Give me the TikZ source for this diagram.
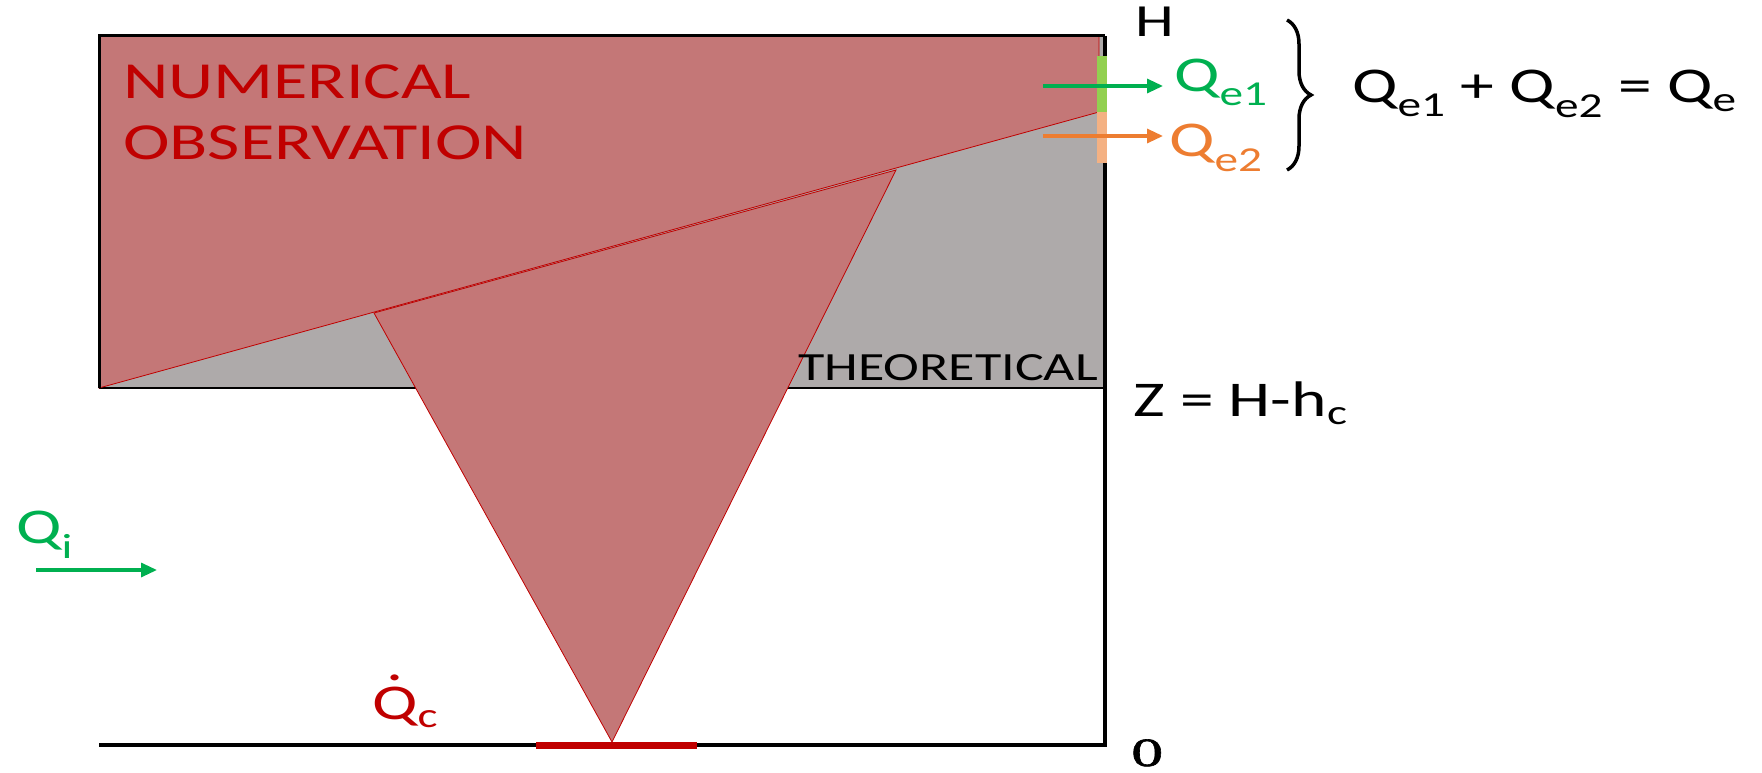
\documentclass[tikz,border=0pt]{standalone}
\usepackage{fontspec}
\setmainfont{Carlito}[FakeStretch=1.35]
\newfontfamily\zerofont{Liberation Serif}[FakeStretch=1.6,FakeBold=1.5]
\usetikzlibrary{arrows.meta,decorations.pathreplacing}
\definecolor{fillred}{RGB}{196,119,119}
\definecolor{darkred}{RGB}{192,0,0}
\definecolor{grayfill}{RGB}{174,170,170}
\definecolor{qgreen}{RGB}{0,176,80}
\definecolor{lgreen}{RGB}{146,208,80}
\definecolor{lorange}{RGB}{244,177,131}
\definecolor{qorange}{RGB}{237,125,49}
\newcommand\Qdot{{\ooalign{Q\cr\hidewidth\raisebox{0.78em}{.}\hidewidth\cr}}}
\begin{document}
\begin{tikzpicture}[x=1pt,y=-1pt,
  redzone/.style={fill=fillred, draw=darkred, line width=0.8pt},
  wall/.style={line width=4pt, black},
  flowarrow/.style={line width=3.2pt, -{Triangle[length=16pt,width=14pt]}},
  lbl/.style={inner sep=0pt, font=\fontsize{50}{60}\selectfont},
  bar/.style={line width=10pt},
]
\useasboundingbox (0,0) rectangle (1762,773);
% theoretical plume zone
\fill[grayfill] (99,36) rectangle (1105,388);
\draw[line width=1.5pt] (99,388) -- (1105,388);
% numerical observation zone
\draw[redzone] (99,36) -- (1099,36) -- (1099,112) -- (99,388) -- cycle;
% cone
\draw[redzone] (612,742) -- (374,313) -- (896,170) -- cycle;
% walls
\draw[line width=3pt] (99,388) -- (99,36) -- (1105,36);
\draw[wall] (1105,36) -- (1105,745) -- (99,745);
% heater
\draw[darkred, line width=7pt] (536,745) -- (697,745);
% exhaust bars
\draw[bar, lgreen] (1102,56) -- (1102,112);
\draw[bar, lorange] (1102,112) -- (1102,163);
% coordinates for arrows
\coordinate (e1s) at (1043,86);
\coordinate (e1e) at (1163,86);
\coordinate (e2s) at (1043,136);
\coordinate (e2e) at (1163,136);
\coordinate (is) at (36,570);
\coordinate (ie) at (157,570);
\draw[flowarrow, qgreen] (e1s) -- (e1e);
\draw[flowarrow, qorange] (e2s) -- (e2e);
\draw[flowarrow, qgreen] (is) -- (ie);
% brace
\coordinate (bt) at (1287,20);
\coordinate (bb) at (1287,170);
\draw[line width=3.5pt, decorate, decoration={brace, amplitude=24pt}] (bt) -- (bb);
% texts
\node[lbl, anchor=north west, align=left, text=darkred, font=\fontsize{52}{61}\selectfont] (num) at (123,65) {NUMERICAL\\OBSERVATION};
\node[lbl, anchor=base east, font=\fontsize{40}{48}\selectfont] (theo) at (1098,380) {THEORETICAL};
\node[lbl, anchor=base west, font=\fontsize{46}{52}\selectfont] (H) at (1135,37) {H};
\node[lbl, anchor=base west, text=qgreen] (qe1) at (1174,92) {Q\textsubscript{e1}};
\node[lbl, anchor=base west, text=qorange] (qe2) at (1169,157) {Q\textsubscript{e2}};
\node[lbl, anchor=base west] (eq) at (1352,103) {Q\textsubscript{e1} + Q\textsubscript{e2} = Q\textsubscript{e}};
\node[lbl, anchor=base west] (z) at (1133,416) {Z = H-h\textsubscript{c}};
\node[lbl, anchor=base west, text=qgreen] (qi) at (16,543) {Q\textsubscript{i}};
\node[lbl, anchor=base west, text=darkred] (qc) at (372,719) {\Qdot\textsubscript{c}};
\node[lbl, anchor=base west, font=\zerofont\fontsize{40}{48}\selectfont] (zero) at (1131,766) {0};
\end{tikzpicture}
\end{document}
